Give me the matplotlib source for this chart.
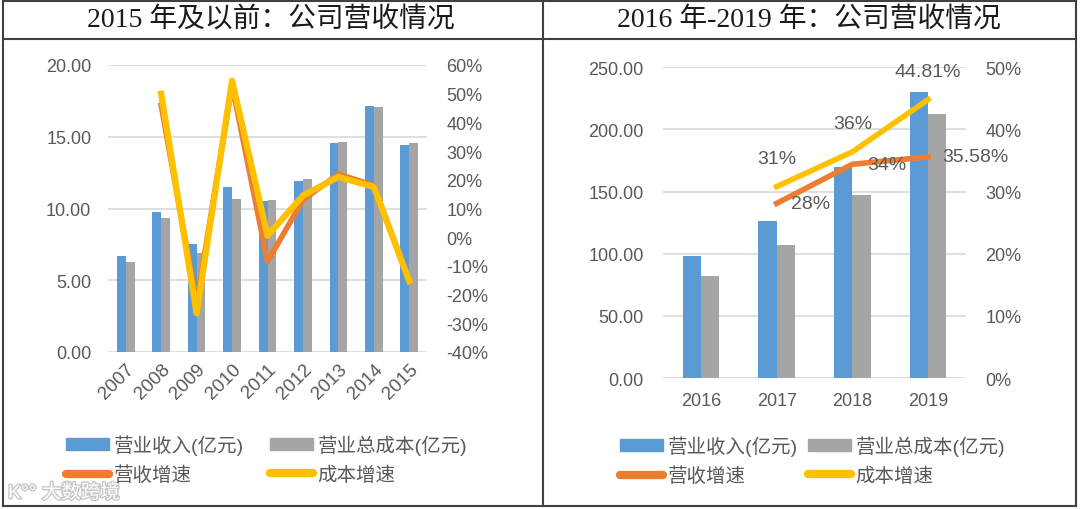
import numpy as np
import matplotlib
matplotlib.use("Agg")
from matplotlib import pyplot as plt
from matplotlib.lines import Line2D
from matplotlib.patches import Patch
import matplotlib.patheffects as pe

plt.rcParams['font.family'] = ['Liberation Sans', 'Noto Sans CJK SC', 'DejaVu Sans']

# left panel: 2015 and before
years_a = ['2007', '2008', '2009', '2010', '2011', '2012', '2013', '2014', '2015']
rev_a = [6.71, 9.78, 7.53, 11.52, 10.54, 11.94, 14.54, 17.14, 14.45]
cost_a = [6.25, 9.36, 6.90, 10.66, 10.61, 12.08, 14.61, 17.09, 14.54]
rev_g_a = [np.nan, 46, -23, 53, -8.5, 13, 22, 18, -15.5]
cost_g_a = [np.nan, 50, -26.5, 54.5, 0.5, 14.5, 21, 17.5, -15.3]

# right panel: 2016-2019
years_b = ['2016', '2017', '2018', '2019']
rev_b = [98.2, 126.0, 170.0, 230.3]
cost_b = [81.8, 107.3, 147.0, 212.6]
rev_g_b = [np.nan, 28.1, 34.4, 35.58]
cost_g_b = [np.nan, 30.8, 36.4, 44.81]
rev_lbl_b = ['', '28%', '34%', '35.58%']
cost_lbl_b = ['', '31%', '36%', '44.81%']

BLUE = '#5B9BD5'
GRAY = '#A5A5A5'
ORANGE = '#ED7D31'
YELLOW = '#FFC000'
TXT = '#595959'
GRID = '#D9D9D9'

fig = plt.figure(figsize=(10.8, 5.1), dpi=100)

# frame / table lines
def fline(x0, y0, x1, y1):
    fig.add_artist(Line2D([x0 / 1080, x1 / 1080], [1 - y0 / 510, 1 - y1 / 510],
                          color='#404040', lw=1.5, transform=fig.transFigure))

fline(3, 2, 1076, 2)
fline(3, 507, 1076, 507)
fline(3, 2, 3, 507)
fline(1076, 2, 1076, 507)
fline(543, 2, 543, 507)
fline(3, 40, 1076, 40)

title_font = ['Liberation Serif', 'Noto Sans CJK SC']
fig.text(271 / 1080, 1 - 21 / 510, '2015 年及以前：公司营收情况', ha='center', va='center',
         fontsize=20, family=title_font, color='#1a1a1a')
fig.text(809 / 1080, 1 - 21 / 510, '2016 年-2019 年：公司营收情况', ha='center', va='center',
         fontsize=20, family=title_font, color='#1a1a1a')


def style(ax, ax2):
    for a in (ax, ax2):
        for s in a.spines.values():
            s.set_visible(False)
        a.tick_params(length=0, labelsize=13, colors=TXT)
    ax.yaxis.grid(True, color=GRID, lw=1.2)
    ax.set_axisbelow(True)


def legend(y1, y2, x_h1, x_h2):
    h_rev = Patch(color=BLUE, label='营业收入(亿元)')
    h_cost = Patch(color=GRAY, label='营业总成本(亿元)')
    h_rg = Line2D([], [], color=ORANGE, lw=6, label='营收增速', solid_capstyle='round')
    h_cg = Line2D([], [], color=YELLOW, lw=6, label='成本增速', solid_capstyle='round')
    for xh, hs in ((x_h1, [h_rev, h_rg]), (x_h2, [h_cost, h_cg])):
        fig.legend(handles=hs, loc='center left',
                   bbox_to_anchor=(xh / 1080, 1 - (y1 + y2) / 2 / 510),
                   frameon=False, fontsize=14, labelcolor=TXT, handlelength=2.2,
                   handleheight=0.55, handletextpad=0.25, borderpad=0,
                   labelspacing=0.55, borderaxespad=0)


# ---- left panel
ax = fig.add_axes([108 / 1080, 1 - 353 / 510, 319 / 1080, 287 / 510])
ax2 = ax.twinx()
x = np.arange(len(years_a))
w = 0.25
ax.bar(x - w / 2, rev_a, w, color=BLUE)
ax.bar(x + w / 2, cost_a, w, color=GRAY)
ax.set_xlim(-0.5, len(years_a) - 0.5)
ax.set_ylim(0, 20)
ax.set_yticks([0, 5, 10, 15, 20])
ax.set_yticklabels(['%.2f' % v for v in [0, 5, 10, 15, 20]])
ax.set_xticks(x)
ax.set_xticklabels(years_a, rotation=45, ha='right', rotation_mode='anchor')
ax2.plot(x, rev_g_a, color=ORANGE, lw=4)
ax2.plot(x, cost_g_a, color=YELLOW, lw=4.5)
ax2.set_ylim(-40, 60)
ax2.set_yticks(range(-40, 61, 10))
ax2.set_yticklabels(['%d%%' % v for v in range(-40, 61, 10)])
style(ax, ax2)
ax.tick_params(axis='x', pad=6, labelsize=13.5)
ax2.tick_params(axis='y', pad=14)
ax.tick_params(axis='y', pad=12)

# ---- right panel
bx = fig.add_axes([663 / 1080, 1 - 379 / 510, 303 / 1080, 310.7 / 510])
bx2 = bx.twinx()
xb = np.arange(len(years_b))
wb = 0.24
bx.bar(xb - wb / 2, rev_b, wb, color=BLUE)
bx.bar(xb + wb / 2, cost_b, wb, color=GRAY)
bx.set_xlim(-0.5, len(years_b) - 0.5)
bx.set_ylim(0, 250)
bx.set_yticks(range(0, 251, 50))
bx.set_yticklabels(['%.2f' % v for v in range(0, 251, 50)])
bx.set_xticks(xb)
bx.set_xticklabels(years_b)
bx2.plot(xb, rev_g_b, color=ORANGE, lw=4)
bx2.plot(xb, cost_g_b, color=YELLOW, lw=4)
bx2.set_ylim(0, 50)
bx2.set_yticks(range(0, 51, 10))
bx2.set_yticklabels(['%d%%' % v for v in range(0, 51, 10)])
style(bx, bx2)
bx.tick_params(axis='x', pad=10)
bx.tick_params(axis='y', pad=14)
bx2.tick_params(axis='y', pad=14)

cost_off = [None, (0, 20.5), (0, 20.5), (0, 20.5)]
rev_off = [None, (24.5, 0), (24.5, 0), (34, 0)]
for i in range(1, len(years_b)):
    bx2.annotate(cost_lbl_b[i], (xb[i], cost_g_b[i]), xytext=cost_off[i],
                 textcoords='offset points', ha='center', va='center',
                 fontsize=14, color=TXT)
    bx2.annotate(rev_lbl_b[i], (xb[i], rev_g_b[i]), xytext=rev_off[i],
                 textcoords='offset points', ha='center', va='center',
                 fontsize=14, color=TXT)

legend(442, 478, 66, 270)
legend(445, 477, 620, 808)

# faint watermark
fig.text(8 / 1080, 1 - 494 / 510, 'K°° 大数跨境', fontsize=14, color='white',
         ha='left', va='center',
         path_effects=[pe.withStroke(linewidth=2, foreground='#C8C8C8')])

fig.savefig('out.png', dpi=100)
